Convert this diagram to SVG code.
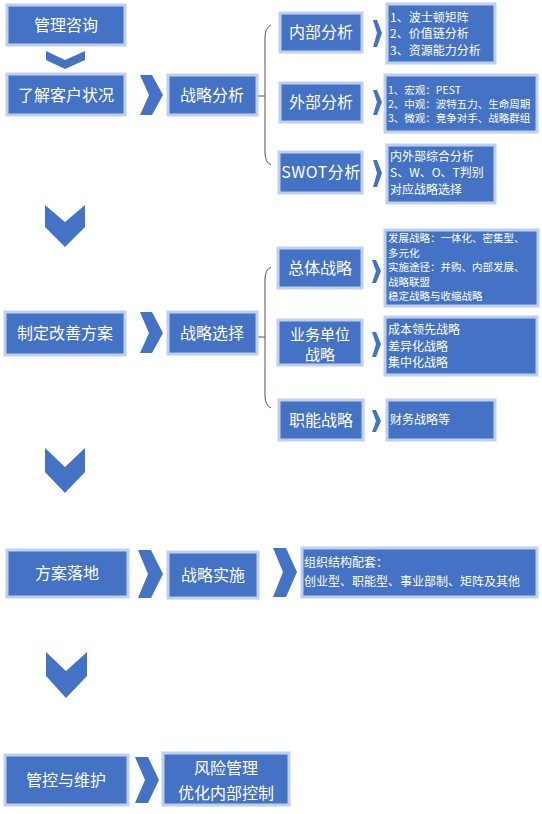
<svg xmlns="http://www.w3.org/2000/svg" width="542" height="814" viewBox="0 0 542 814">
<style>
.box{fill:#4472c4;stroke:#bfcfee;stroke-width:3}
.t{fill:#fff;font-family:"Noto Sans CJK SC","Noto Sans",sans-serif;font-size:16px;text-anchor:middle}
.s{fill:#fff;font-family:"Noto Sans CJK SC","Noto Sans",sans-serif;font-size:12px}
.s11{font-size:10.5px}
.chev{fill:#4472c4}
.br{fill:none;stroke:#555;stroke-width:1}
</style>
<rect width="542" height="814" fill="#fff"/>
<g id="connectors">
<polygon class="chev" points="46,51 65,60 85,51 85,60 65,69 46,60"/>
<polygon class="chev" points="45,205 65,222 85,205 85,227 65,247 45,227"/>
<polygon class="chev" points="45,448 65,467 85,448 85,472 65,493 45,472"/>
<polygon class="chev" points="46,652 66,671 87,652 87,676 66,698 46,676"/>
<polygon class="chev" points="140,75 152,75 163,95 152,115 140,115 149,95"/>
<polygon class="chev" points="140,312 152,312 163,333 152,353 140,353 149,333"/>
<polygon class="chev" points="138,550 151,550 163,574 151,598 138,598 148,574"/>
<polygon class="chev" points="273,548 286,548 297,572 286,597 273,597 283,572"/>
<polygon class="chev" points="135,757 148,757 159,780 148,803 135,803 145,780"/>
<polygon class="chev" points="373,20 377,20 382,33 377,47 373,47 377,33"/>
<polygon class="chev" points="373,90 377,90 382,102 377,115 373,115 377,102"/>
<polygon class="chev" points="373,160 377,160 382,173 377,187 373,187 377,173"/>
<polygon class="chev" points="372,260 376,260 381,271 376,283 372,283 376,271"/>
<polygon class="chev" points="372,332 376,332 381,344 376,357 372,357 376,344"/>
<polygon class="chev" points="372,410 376,410 381,421 376,432 372,432 376,421"/>
<path class="br" d="M257,96 H265 M271,25 Q265,28 265,37 V153 Q265,162 271,165"/>
<path class="br" d="M257,337 H265 M271,267 Q265,270 265,279 V396 Q265,405 271,408"/>
</g>
<g id="n1"><rect class="box" x="7" y="5" width="118" height="40"/><text class="t" x="66" y="31">管理咨询</text></g>
<g id="n2"><rect class="box" x="7" y="74" width="118" height="41"/><text class="t" x="66" y="101">了解客户状况</text></g>
<g id="n3"><rect class="box" x="168" y="75" width="89" height="40"/><text class="t" x="212" y="101">战略分析</text></g>
<g id="n4"><rect class="box" x="280" y="13" width="82" height="39"/><text class="t" x="321" y="38">内部分析</text></g>
<g id="n5"><rect class="box" x="280" y="83" width="82" height="39"/><text class="t" x="321" y="108">外部分析</text></g>
<g id="n6"><rect class="box" x="279" y="152" width="83" height="41"/><text class="t" x="321" y="178" letter-spacing="0.5">SWOT分析</text></g>
<g id="n7"><rect class="box" x="387" y="4" width="108" height="59"/>
<text class="s" x="390" y="22">1、波士顿矩阵</text><text class="s" x="390" y="38">2、价值链分析</text><text class="s" x="390" y="55">3、资源能力分析</text></g>
<g id="n8"><rect class="box" x="385" y="75" width="152" height="57"/>
<text class="s s11" x="388" y="94">1、宏观：PEST</text><text class="s s11" x="388" y="108">2、中观：波特五力、生命周期</text><text class="s s11" x="388" y="122">3、微观：竞争对手、战略群组</text></g>
<g id="n9"><rect class="box" x="387" y="145" width="108" height="58"/>
<text class="s" x="390" y="161">内外部综合分析</text><text class="s" x="390" y="177">S、W、O、T判别</text><text class="s" x="390" y="194">对应战略选择</text></g>
<g id="n10"><rect class="box" x="5" y="312" width="120" height="43"/><text class="t" x="65" y="339">制定改善方案</text></g>
<g id="n11"><rect class="box" x="168" y="312" width="89" height="42"/><text class="t" x="212" y="339">战略选择</text></g>
<g id="n12"><rect class="box" x="278" y="248" width="84" height="40"/><text class="t" x="320" y="274">总体战略</text></g>
<g id="n13"><rect class="box" x="385" y="230" width="153" height="76"/>
<text class="s s11" x="388" y="242">发展战略：一体化、密集型、</text><text class="s s11" x="388" y="256.5">多元化</text><text class="s s11" x="388" y="271">实施途径：并购、内部发展、</text><text class="s s11" x="388" y="285.5">战略联盟</text><text class="s s11" x="388" y="300">稳定战略与收缩战略</text></g>
<g id="n14"><rect class="box" x="278" y="320" width="84" height="45"/><text class="t" x="320" y="340" style="font-size:15px">业务单位</text><text class="t" x="320" y="360" style="font-size:15px">战略</text></g>
<g id="n15"><rect class="box" x="385" y="317" width="152" height="58"/>
<text class="s" x="388" y="334">成本领先战略</text><text class="s" x="388" y="351">差异化战略</text><text class="s" x="388" y="367">集中化战略</text></g>
<g id="n16"><rect class="box" x="279" y="400" width="84" height="40"/><text class="t" x="321" y="426">职能战略</text></g>
<g id="n17"><rect class="box" x="387" y="400" width="108" height="40"/><text class="s" x="390" y="424">财务战略等</text></g>
<g id="n18"><rect class="box" x="7" y="550" width="121" height="47"/><text class="t" x="67" y="579">方案落地</text></g>
<g id="n19"><rect class="box" x="168" y="552" width="90" height="46"/><text class="t" x="213" y="581">战略实施</text></g>
<g id="n20"><rect class="box" x="302" y="548" width="235" height="49"/>
<text class="s" x="304" y="567">组织结构配套：</text><text class="s" x="304" y="586">创业型、职能型、事业部制、矩阵及其他</text></g>
<g id="n21"><rect class="box" x="5" y="755" width="123" height="50"/><text class="t" x="66" y="786">管控与维护</text></g>
<g id="n22"><rect class="box" x="163" y="753" width="126" height="52"/><text class="t" x="226" y="774">风险管理</text><text class="t" x="226" y="799">优化内部控制</text></g>
</svg>
